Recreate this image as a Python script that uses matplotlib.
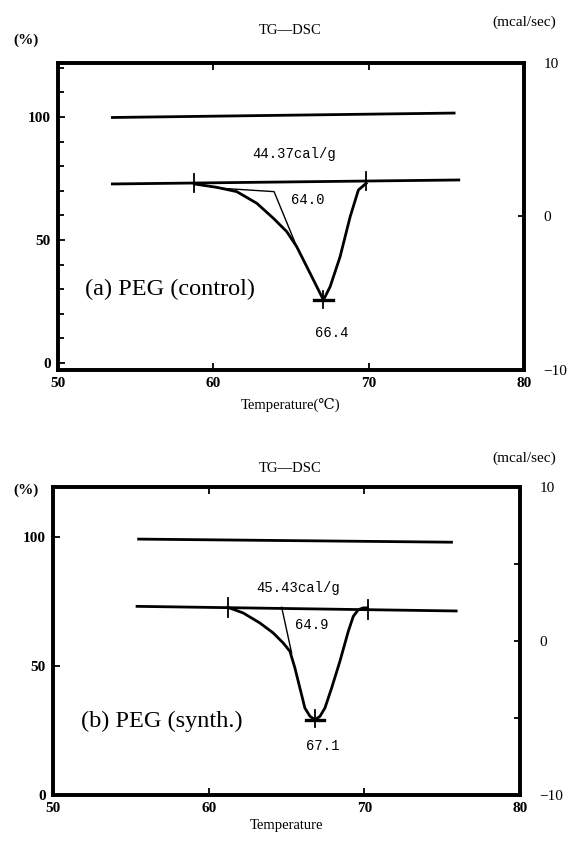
import matplotlib
matplotlib.use('Agg')
import matplotlib.pyplot as plt
import numpy as np

# ---- data ----
# (a) PEG (control)
tg_a_x = [53.5, 75.5]
tg_a_y = [99.8, 101.6]
base_a_x = [53.5, 75.8]
base_a_y = [2.12, 2.38]
dsc_a_x = [58.78, 60.22, 61.51, 62.80, 63.87, 64.73, 65.37, 66.23, 67.09,
           67.52, 68.16, 68.81, 69.34, 69.84]
dsc_a_y = [2.12, 1.90, 1.62, 0.86, -0.12, -0.99, -1.97, -3.70, -5.44,
           -4.57, -2.62, -0.01, 1.73, 2.16]
tan_a_x = [58.78, 60.5, 63.91, 65.37]
tan_a_y = [2.12, 1.84, 1.62, -1.97]
onset_a = 58.78
end_a = 69.84
peak_a = (67.09, -5.44)

# (b) PEG (synth.)
tg_b_x = [55.5, 75.6]
tg_b_y = [99.2, 98.0]
base_b_x = [55.4, 75.9]
base_b_y = [2.25, 1.95]
dsc_b_x = [61.22, 62.22, 63.29, 64.15, 64.79, 65.22, 65.54, 65.86, 66.18,
           66.51, 66.83, 67.15, 67.47, 67.90, 68.43, 68.97, 69.29, 69.61,
           69.93, 70.21]
dsc_b_y = [2.19, 1.82, 1.17, 0.52, -0.13, -0.67, -1.75, -3.05, -4.35,
           -4.89, -5.11, -4.89, -4.35, -3.05, -1.32, 0.63, 1.60, 2.03,
           2.15, 2.15]
tan_b_x = [64.69, 65.33]
tan_b_y = [2.19, -0.78]
onset_b = 61.22
end_b = 70.21
peak_b = (66.83, -5.11)

xticks = [50, 60, 70, 80]
serif = ['Liberation Serif', 'DejaVu Serif']
mono = ['Liberation Mono', 'DejaVu Sans Mono']

fig = plt.figure(figsize=(5.87, 8.41), dpi=100)


def panel(rect, ylim, tg_x, tg_y, base_x, base_y, dx, dy, tx, ty,
          onset, end, peak, heat, heat_xy, onset_lbl, onset_xy,
          peak_lbl, peak_xy, name, name_xy, xlabel, minor_left, minor_right,
          lpad):
    ax = fig.add_axes(rect)
    ax.set_xlim(50, 80)
    ax.set_ylim(*ylim)
    ax2 = ax.twinx()
    ax2.set_ylim(-10, 10)
    ax2.set_xlim(50, 80)

    for a in (ax, ax2):
        for s in a.spines.values():
            s.set_linewidth(2.6)
            s.set_color('black')

    # TG line
    ax.plot(tg_x, tg_y, color='black', lw=2.0)
    # DSC baseline, curve and tangent construction
    ax2.plot(base_x, base_y, color='black', lw=2.0)
    ax2.plot(dx, dy, color='black', lw=2.0)
    ax2.plot(tx, ty, color='black', lw=1.0)
    yb0 = np.interp(onset, base_x, base_y)
    yb1 = np.interp(end, base_x, base_y)
    ax2.plot([onset, onset], [yb0 - 0.6, yb0 + 0.6], color='black', lw=1.3)
    ax2.plot([end, end], [yb1 - 0.6, yb1 + 0.6], color='black', lw=1.3)
    ax2.plot([peak[0], peak[0]], [peak[1] - 0.5, peak[1] + 0.6], color='black', lw=1.3)
    ax2.plot([peak[0] - 0.6, peak[0] + 0.6], [peak[1], peak[1]], color='black', lw=2.4)

    ax2.text(heat_xy[0], heat_xy[1], heat, ha='center', va='center',
             fontsize=10, family=mono)
    ax2.text(onset_xy[0], onset_xy[1], onset_lbl, ha='center', va='center',
             fontsize=10, family=mono)
    ax2.text(peak_xy[0], peak_xy[1], peak_lbl, ha='center', va='center',
             fontsize=10, family=mono)
    ax2.text(name_xy[0], name_xy[1], name, ha='center', va='center',
             fontsize=17.5, family=serif)

    ax.set_xticks(xticks)
    ax.set_xticklabels([str(t) for t in xticks], family=serif,
                       fontsize=11, fontweight='bold')
    ax.set_yticks([0, 50, 100])
    ax.set_yticklabels(['0', '50', '100'], family=serif,
                       fontsize=11, fontweight='bold')
    ax.set_yticks(minor_left, minor=True)
    ax.tick_params(axis='both', which='major', direction='in', length=5,
                   width=1.3, top=True, pad=5)
    ax.tick_params(axis='y', which='minor', direction='in', length=4, width=1.3)
    ax2.set_yticks([-10, 0, 10])
    ax2.set_yticklabels(['\u221210', '0', '10'], family=serif, fontsize=11)
    ax2.set_yticks(minor_right, minor=True)
    ax2.tick_params(axis='y', which='both', direction='in', length=4,
                    width=1.3, pad=14)
    ax.set_xlabel(xlabel, family=serif, fontsize=10.5, labelpad=lpad)
    return ax, ax2


panel([58 / 587, 1 - 370 / 841, 466 / 587, 307 / 841], (-2.85, 121.95),
      tg_a_x, tg_a_y, base_a_x, base_a_y, dsc_a_x, dsc_a_y, tan_a_x, tan_a_y,
      onset_a, end_a, peak_a, '44.37cal/g', (65.2, 4.05), '64.0', (66.1, 1.08),
      '66.4', (67.6, -7.6), '(a) PEG (control)', (57.2, -4.75),
      'Temperature(\u2103)', list(range(10, 121, 10)), [], 6)

panel([53 / 587, 1 - 795 / 841, 467 / 587, 308 / 841], (0, 119.4),
      tg_b_x, tg_b_y, base_b_x, base_b_y, dsc_b_x, dsc_b_y, tan_b_x, tan_b_y,
      onset_b, end_b, peak_b, '45.43cal/g', (65.76, 3.44), '64.9', (66.61, 1.06),
      '67.1', (67.3, -6.8), '(b) PEG (synth.)', (57.0, -5.25),
      'Temperature', [], [-5, 5], 3)

# headers above each panel
for yt, yp, ym in [(30, 40, 22), (468, 490, 458)]:
    fig.text(290 / 587, 1 - yt / 841, 'TG\u2014DSC', ha='center', va='center',
             family=serif, fontsize=10.5)
    fig.text(26 / 587, 1 - yp / 841, '(%)', ha='center', va='center',
             family=serif, fontsize=11, fontweight='bold')
    fig.text(524 / 587, 1 - ym / 841, '(mcal/sec)', ha='center', va='center',
             family=serif, fontsize=11)

fig.savefig('out.png', dpi=100, facecolor='white')
